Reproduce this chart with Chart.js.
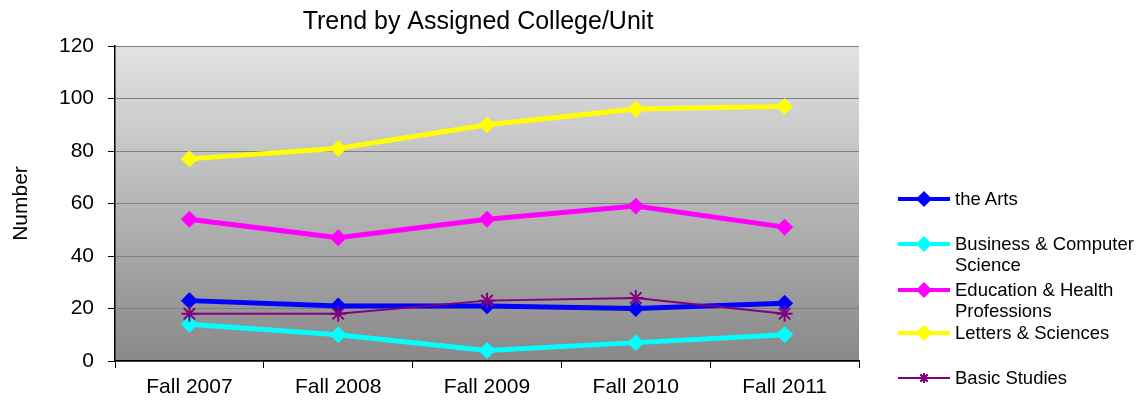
<!DOCTYPE html>
<html>
<head>
<meta charset="utf-8">
<script src="https://cdn.jsdelivr.net/npm/chart.js@4/dist/chart.umd.min.js"></script>
<style>
  body { margin: 0; background: #fff; font-family: "Liberation Sans", Arial, sans-serif; }
  #wrap { position: relative; width: 1138px; height: 400px; }
  #legend { position: absolute; left: 898px; top: 0; width: 240px; font-size: 18.5px; color: #000; }
  .item { position: absolute; left: 0; display: flex; align-items: flex-start; line-height: 21px; white-space: nowrap; }
  .item canvas { flex: none; margin-top: 1px; }
  .item span { margin-left: 5px; }
</style>
</head>
<body>
<div id="wrap">
  <canvas id="myChart" width="1138" height="400"></canvas>
  <div id="legend"></div>
</div>
<script>
// chart data
const categories = ["Fall 2007", "Fall 2008", "Fall 2009", "Fall 2010", "Fall 2011"];
const seriesNames = ["the Arts", "Business & Computer Science", "Education & Health Professions", "Letters & Sciences", "Basic Studies"];
const legendLines = [["the Arts"], ["Business & Computer", "Science"], ["Education & Health", "Professions"], ["Letters & Sciences"], ["Basic Studies"]];
const artsValues = [23, 21, 21, 20, 22];
const businessValues = [14, 10, 4, 7, 10];
const educationValues = [54, 47, 54, 59, 51];
const lettersValues = [77, 81, 90, 96, 97];
const basicValues = [18, 18, 23, 24, 18];
const yTicks = [0, 20, 40, 60, 80, 100, 120];

const colors = ["#0000FF", "#00FFFF", "#FF00FF", "#FFFF00", "#800080"];
const allValues = [artsValues, businessValues, educationValues, lettersValues, basicValues];

const datasets = allValues.map((vals, i) => {
  const isBasic = i === 4;
  return {
    label: seriesNames[i],
    data: vals,
    borderColor: colors[i],
    backgroundColor: colors[i],
    borderWidth: isBasic ? 2 : 5,
    pointStyle: isBasic ? "star" : "rectRot",
    pointRadius: 8,
    pointBorderWidth: isBasic ? 2 : 1,
    pointHoverRadius: 8,
    tension: 0,
    order: 5 - i // later series drawn on top, like the original
  };
});

// grey gradient behind the plot
const plotBackground = {
  id: "plotBackground",
  afterLayout(chart) {
    // the original title sits a little left of the plot centre
    chart.titleBlock.left -= 18;
  },
  beforeDraw(chart) {
    const { ctx, chartArea } = chart;
    const g = ctx.createLinearGradient(0, chartArea.top, 0, chartArea.bottom);
    g.addColorStop(0, "#e3e3e3");
    g.addColorStop(1, "#888888");
    ctx.save();
    ctx.fillStyle = g;
    ctx.fillRect(chartArea.left, chartArea.top, chartArea.right - chartArea.left, chartArea.bottom - chartArea.top);
    ctx.restore();
  }
};

const ctx = document.getElementById("myChart").getContext("2d");
const myChart = new Chart(ctx, {
  type: "line",
  data: { labels: categories, datasets: datasets },
  options: {
    responsive: false,
    animation: false,
    layout: { padding: { left: 0, right: 279, top: 0, bottom: 0 } },
    plugins: {
      legend: { display: false },
      tooltip: { enabled: false },
      title: {
        display: true,
        fullSize: false,
        text: "Trend by Assigned College/Unit",
        color: "#000",
        font: { family: "Liberation Sans", size: 25, weight: "normal" },
        padding: { top: 7, bottom: 9 }
      }
    },
    scales: {
      x: {
        offset: true,
        afterFit: (axis) => { axis.height = 39; },
        grid: { display: true, drawOnChartArea: false, offset: true, color: "#000", tickLength: 7 },
        border: { color: "#000", width: 1.5 },
        ticks: { color: "#000", font: { family: "Liberation Sans", size: 21 }, padding: 7, maxRotation: 0 }
      },
      y: {
        min: 0,
        max: 120,
        afterBuildTicks: (axis) => { axis.ticks = yTicks.map((v) => ({ value: v })); },
        afterFit: (axis) => { axis.width = 115; },
        grid: { color: "#808080", lineWidth: 1, tickLength: 7, tickColor: "#000" },
        border: { color: "#000", width: 1.5 },
        ticks: { color: "#000", font: { family: "Liberation Sans", size: 21 }, padding: 14 },
        title: {
          display: true,
          text: "Number",
          color: "#000",
          font: { family: "Liberation Sans", size: 21 },
          padding: { top: 9, bottom: 0 }
        }
      }
    }
  },
  plugins: [plotBackground]
});

// legend built from the datasets, placed to the right like the original
const legendTops = [188, 233, 279, 322, 367];
const legendEl = document.getElementById("legend");
myChart.data.datasets.forEach((ds, i) => {
  const item = document.createElement("div");
  item.className = "item";
  item.style.top = legendTops[i] + "px";
  const c = document.createElement("canvas");
  c.width = 52; c.height = 20;
  const g = c.getContext("2d");
  g.strokeStyle = ds.borderColor;
  g.lineWidth = i === 4 ? 2 : 4;
  g.beginPath(); g.moveTo(0, 10); g.lineTo(52, 10); g.stroke();
  Chart.helpers.drawPoint(g, { pointStyle: ds.pointStyle, radius: 5, rotation: 0, borderWidth: ds.pointBorderWidth }, 26, 10);
  g.fillStyle = ds.backgroundColor;
  g.fill();
  g.stroke();
  item.appendChild(c);
  const span = document.createElement("span");
  span.innerHTML = legendLines[i].map((t) => t.replace(/&/g, "&amp;")).join("<br>");
  item.appendChild(span);
  legendEl.appendChild(item);
});
</script>
</body>
</html>
